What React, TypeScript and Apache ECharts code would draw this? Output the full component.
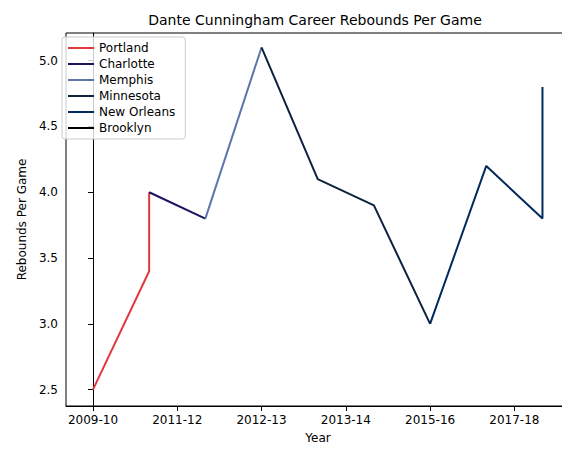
import { useEffect, useRef } from "react";
import * as echarts from "echarts";

const seasons = ["2009-10", "2011-12", "2012-13", "2013-14", "2015-16", "2017-18"];
const tickPositions = [0, 1.5, 3, 4.5, 6, 7.5];
const yTicks = [2.5, 3.0, 3.5, 4.0, 4.5, 5.0];

const teams = ["Portland", "Charlotte", "Memphis", "Minnesota", "New Orleans", "Brooklyn"];
const colors = ["#E03A3E", "#1D1160", "#5D76A9", "#0C2340", "#002B5C", "#000000"];
const teamPoints: number[][][] = [
  [[0, 2.5], [1, 3.4], [1, 4.0]],
  [[1, 4.0], [2, 3.8]],
  [[2, 3.8], [3, 5.1]],
  [[3, 5.1], [4, 4.1], [5, 3.9], [6, 3.0]],
  [[6, 3.0], [7, 4.2], [8, 3.8], [8, 4.8]],
  [[8, 4.8]],
];

export default function App() {
  const chartRef = useRef<HTMLDivElement>(null);

  useEffect(() => {
    if (!chartRef.current) return;
    const chart = echarts.init(chartRef.current, null, { renderer: "svg" });
    const font = "DejaVu Sans";
    chart.setOption({
      animation: false,
      textStyle: { fontFamily: font },
      title: {
        text: "Dante Cunningham Career Rebounds Per Game",
        left: 302,
        textAlign: "center",
        top: 0,
        textStyle: { fontSize: 14, fontWeight: "normal", color: "#000" },
      },
      legend: {
        orient: "vertical",
        left: 54,
        top: 29,
        itemGap: 4,
        itemWidth: 26,
        itemHeight: 2,
        icon: "rect",
        backgroundColor: "rgba(255,255,255,0.8)",
        borderColor: "#ccc",
        borderWidth: 1,
        borderRadius: 3,
        padding: [5, 10, 5, 6],
        textStyle: { fontSize: 12, color: "#000" },
        data: teams,
      },
      grid: {
        left: 49,
        right: 0,
        top: 25,
        bottom: 47,
        show: true,
        borderColor: "#000",
        borderWidth: 1,
      },
      xAxis: {
        type: "value",
        scale: true,
        min: () => -0.48,
        max: () => 8.49,
        name: "Year",
        nameLocation: "middle",
        nameGap: 26,
        nameTextStyle: { fontSize: 12, color: "#000" },
        axisLine: { show: true, lineStyle: { color: "#000" } },
        axisTick: { show: true, customValues: tickPositions, lineStyle: { color: "#000" } },
        axisLabel: {
          customValues: tickPositions,
          color: "#000",
          fontSize: 12,
          showMinLabel: true,
          showMaxLabel: true,
          formatter: (v: number) => seasons[tickPositions.indexOf(v)] ?? "",
        },
        splitLine: { show: false },
      },
      yAxis: {
        type: "value",
        scale: true,
        min: () => 2.376,
        max: () => 5.21,
        name: "Rebounds Per Game",
        nameLocation: "middle",
        nameGap: 38,
        nameTextStyle: { fontSize: 12, color: "#000" },
        axisLine: { show: true, lineStyle: { color: "#000" } },
        axisTick: { show: true, customValues: yTicks, lineStyle: { color: "#000" } },
        axisLabel: {
          customValues: yTicks,
          color: "#000",
          fontSize: 12,
          formatter: (v: number) => v.toFixed(1),
        },
        splitLine: { show: false },
      },
      series: teams.map((t, i) => ({
        name: t,
        type: "line",
        data: teamPoints[i],
        showSymbol: false,
        symbol: "none",
        lineStyle: { width: 2, color: colors[i] },
        itemStyle: { color: colors[i] },
      })),
    });
    return () => chart.dispose();
  }, []);

  return <div ref={chartRef} style={{ width: 562, height: 445 }} />;
}
